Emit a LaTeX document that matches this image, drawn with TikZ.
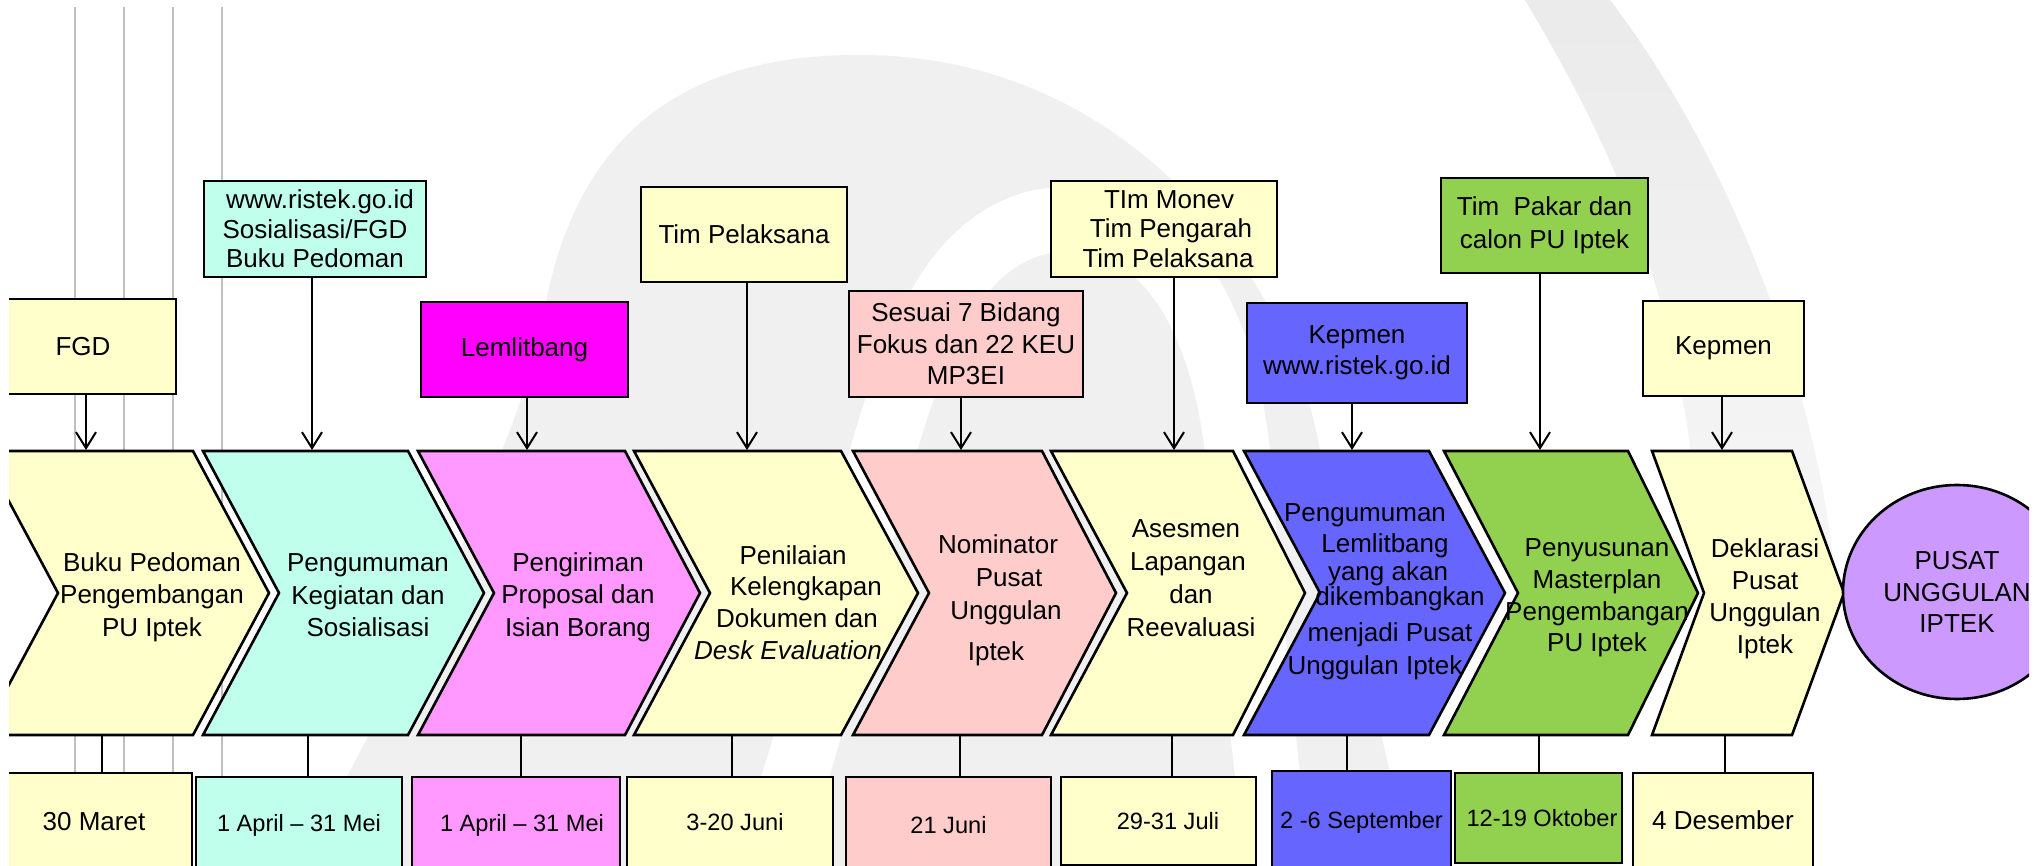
\documentclass[tikz,border=0pt]{standalone}
\usepackage{fontspec}
\setmainfont{Liberation Sans}
\usetikzlibrary{arrows.meta,shapes.geometric}
\definecolor{cream}{HTML}{FFFFCC}
\definecolor{mint}{HTML}{BFFFEB}
\definecolor{lilac}{HTML}{FF99FF}
\definecolor{magentabox}{HTML}{FF00FF}
\definecolor{rose}{HTML}{FFCCCC}
\definecolor{violetblue}{HTML}{6666FF}
\definecolor{leaf}{HTML}{92D050}
\definecolor{lavender}{HTML}{CC99FF}
\definecolor{guidegray}{HTML}{C0C0C0}
\definecolor{wmgray}{HTML}{F0F0F0}

% chevron: left corner x, right corner x, tip x, notch x, fill colour
\newcommand{\chevshape}[5]{%
  \filldraw[chev,fill=#5] (#1,451) -- (#2,451) -- (#3,593) -- (#2,735) -- (#1,735) -- (#4,593) -- cycle;}

\begin{document}
\begin{tikzpicture}[x=1pt,y=-1pt,
  box/.style={draw=black,line width=2.6pt,inner sep=0pt,align=center,
              font=\fontsize{26}{29.5}\selectfont},
  chev/.style={draw=black,line width=2.6pt,line join=miter},
  chtext/.style={align=center,inner sep=0pt,font=\fontsize{26}{32.5}\selectfont},
  datebox/.style={draw=black,line width=2.6pt,inner sep=0pt,
                  font=\fontsize{23.6}{26}\selectfont},
  bigdate/.style={font=\fontsize{26}{29}\selectfont},
  arr/.style={line width=2pt,-{Straight Barb[length=16pt,width=20pt]}},
  link/.style={line width=2.2pt},
  guide/.style={draw=guidegray,line width=2pt}]

\useasboundingbox (0,0) rectangle (2035,866);
\fill[white] (0,0) rectangle (2035,866);

\begin{scope}
\clip (9,0) rectangle (2029,866);

% faint logo in the background
\fill[wmgray] (300,866) .. controls (420,640) and (500,480) .. (540,340)
              .. controls (560,180) and (640,58) .. (850,55)
              .. controls (1130,50) and (1290,280) .. (1320,450)
              .. controls (1350,620) and (1390,760) .. (1410,866) -- cycle;
\draw[white,line width=65pt]
  (760,880) .. controls (880,560) and (880,260) .. (1040,222)
            .. controls (1170,200) and (1230,330) .. (1240,480)
            .. controls (1250,620) and (1265,760) .. (1280,880);
\shade[top color=black!8,bottom color=black!3]
  (1525,0) .. controls (1620,160) and (1695,320) .. (1705,620)
  -- (1838,620) .. controls (1830,420) and (1740,170) .. (1610,0) -- cycle;

% vertical guide lines
\foreach \gx in {75,124,173,222}
  \draw[guide] (\gx,7) -- (\gx,800);

% resource boxes
\node[box,fill=cream,minimum width=186pt,minimum height=95pt] (fgd) at (83,346.5) {FGD};
\node[box,fill=mint,minimum width=222pt,minimum height=96pt] (web) at (315,229)
  {\hspace*{10pt}www.ristek.go.id\\Sosialisasi/FGD\\Buku Pedoman};
\node[box,fill=magentabox,minimum width=207pt,minimum height=95pt] (lem) at (524.5,349.5) {Lemlitbang};
\node[box,fill=cream,minimum width=206pt,minimum height=95pt] (timp) at (744,234.5) {Tim Pelaksana};
\node[box,fill=rose,minimum width=234pt,minimum height=106pt,font=\fontsize{26}{31.5}\selectfont] (ses) at (966,344)
  {Sesuai 7 Bidang\\Fokus dan 22 KEU\\MP3EI};
\node[box,fill=cream,minimum width=226pt,minimum height=96pt] (mon) at (1164,229)
  {\hspace*{10pt}TIm Monev\\\hspace*{14pt}Tim Pengarah\\\hspace*{8pt}Tim Pelaksana};
\node[box,fill=violetblue,minimum width=220pt,minimum height=100pt,font=\fontsize{26}{31}\selectfont] (kep) at (1357,353)
  {Kepmen\\www.ristek.go.id};
\node[box,fill=leaf,minimum width=207pt,minimum height=95pt,font=\fontsize{26}{33}\selectfont] (pak) at (1544.5,225.5)
  {Tim\ \ Pakar dan\\calon PU Iptek};
\node[box,fill=cream,minimum width=161pt,minimum height=95pt] (kepb) at (1723.5,348.5) {Kepmen};

% arrow targets on the top of the stages
\coordinate (a1) at (86,450);
\coordinate (a2) at (312,450);
\coordinate (a3) at (527,450);
\coordinate (a4) at (747,450);
\coordinate (a5) at (961,450);
\coordinate (a6) at (1174,450);
\coordinate (a7) at (1352,450);
\coordinate (a8) at (1540,450);
\coordinate (a9) at (1722,450);

\draw[arr] (fgd.south -| a1) -- (a1);
\draw[arr] (web.south -| a2) -- (a2);
\draw[arr] (lem.south -| a3) -- (a3);
\draw[arr] (timp.south -| a4) -- (a4);
\draw[arr] (ses.south -| a5) -- (a5);
\draw[arr] (mon.south -| a6) -- (a6);
\draw[arr] (kep.south -| a7) -- (a7);
\draw[arr] (pak.south -| a8) -- (a8);
\draw[arr] (kepb.south -| a9) -- (a9);

% process stages
\chevshape{-18}{193}{269}{58}{cream}
\chevshape{203}{408}{484}{279}{mint}
\chevshape{418}{625}{700}{494}{lilac}
\chevshape{634}{841}{918}{710}{cream}
\chevshape{853}{1042}{1116}{929}{rose}
\chevshape{1051}{1233}{1305}{1127}{cream}
\chevshape{1244}{1429}{1505}{1320}{violetblue}
\chevshape{1444}{1628}{1698}{1518}{leaf}
\chevshape{1652}{1792}{1844}{1704}{cream}

\node[chtext] (ch1) at (152,597) {Buku Pedoman\\Pengembangan\\PU Iptek};
\node[chtext] (ch2) at (368,595.5) {Pengumuman\\Kegiatan dan\\Sosialisasi};
\node[chtext] (ch3) at (578,597) {Pengiriman\\Proposal dan\\Isian Borang};
\node[chtext,font=\fontsize{26}{31.7}\selectfont] (ch4) at (797,602.5)
  {Penilaian\hspace*{8pt}\\\hspace*{18pt}Kelengkapan\\Dokumen dan\\\textit{Desk Evaluation}\hspace*{18pt}};
\node[chtext,font=\fontsize{26}{33}\selectfont] (ch5) at (1003,600)
  {Nominator\hspace*{10pt}\\\hspace*{12pt}Pusat\\\hspace*{6pt}Unggulan\\[8pt]Iptek\hspace*{14pt}};
\node[chtext,font=\fontsize{26}{33}\selectfont] (ch6) at (1188,578.5)
  {Asesmen\hspace*{4pt}\\Lapangan\hspace*{4pt}\\\hspace*{6pt}dan\\\hspace*{6pt}Reevaluasi};
\node[chtext,font=\fontsize{26}{31}\selectfont] (ch7) at (1385,592)
  {Pengumuman\hspace*{40pt}\\[0pt]Lemlitbang\hspace*{4pt}\\[-3pt]\hspace*{6pt}yang akan\\[-6pt]\hspace*{30pt}dikembangkan\\[5pt]\hspace*{10pt}menjadi Pusat\\[2pt]Unggulan Iptek\hspace*{20pt}};
\node[chtext,font=\fontsize{26}{31.7}\selectfont] (ch8) at (1597,598) {Penyusunan\\Masterplan\\Pengembangan\\PU Iptek};
\node[chtext,font=\fontsize{26}{32}\selectfont] (ch9) at (1765,598.5) {Deklarasi\\Pusat\\Unggulan\\Iptek};

% final goal
\node[ellipse,draw=black,line width=2.6pt,fill=lavender,inner sep=0pt,
      minimum width=228pt,minimum height=214pt,align=center,
      font=\fontsize{26}{31.5}\selectfont] (goal) at (1957,592)
  {PUSAT\\UNGGULAN\\IPTEK};

% schedule boxes
\node[datebox,bigdate,fill=cream,minimum width=202pt,minimum height=98pt] (d1) at (91,822) {\hspace*{6pt}30 Maret};
\node[datebox,fill=mint,minimum width=206pt,minimum height=96pt] (d2) at (299,825) {1 April -- 31 Mei};
\node[datebox,fill=lilac,minimum width=208pt,minimum height=96pt] (d3) at (516,825) {\hspace*{12pt}1 April -- 31 Mei};
\node[datebox,fill=cream,minimum width=206pt,minimum height=90pt] (d4) at (730,822) {\hspace*{10pt}3-20 Juni};
\node[datebox,fill=rose,minimum width=205pt,minimum height=96pt] (d5) at (948.5,825) {21 Juni};
\node[datebox,fill=cream,minimum width=195pt,minimum height=88pt] (d6) at (1158.5,821) {\hspace*{19pt}29-31 Juli};
\node[datebox,fill=violetblue,minimum width=179pt,minimum height=102pt] (d7) at (1361.5,822) {2 -6 September};
\node[datebox,fill=leaf,minimum width=167pt,minimum height=90pt] (d8) at (1538.5,818) {\hspace*{7pt}12-19 Oktober};
\node[datebox,bigdate,fill=cream,minimum width=180pt,minimum height=94pt] (d9) at (1723,820) {4 Desember};

% stage-to-date links
\coordinate (b1) at (102,735);
\coordinate (b2) at (308,735);
\coordinate (b3) at (521,735);
\coordinate (b4) at (732,735);
\coordinate (b5) at (960,735);
\coordinate (b6) at (1172,735);
\coordinate (b7) at (1347,735);
\coordinate (b8) at (1539,735);
\coordinate (b9) at (1725,735);
\draw[link] (b1) -- (b1 |- d1.north);
\draw[link] (b2) -- (b2 |- d2.north);
\draw[link] (b3) -- (b3 |- d3.north);
\draw[link] (b4) -- (b4 |- d4.north);
\draw[link] (b5) -- (b5 |- d5.north);
\draw[link] (b6) -- (b6 |- d6.north);
\draw[link] (b7) -- (b7 |- d7.north);
\draw[link] (b8) -- (b8 |- d8.north);
\draw[link] (b9) -- (b9 |- d9.north);
\end{scope}
\end{tikzpicture}
\end{document}
